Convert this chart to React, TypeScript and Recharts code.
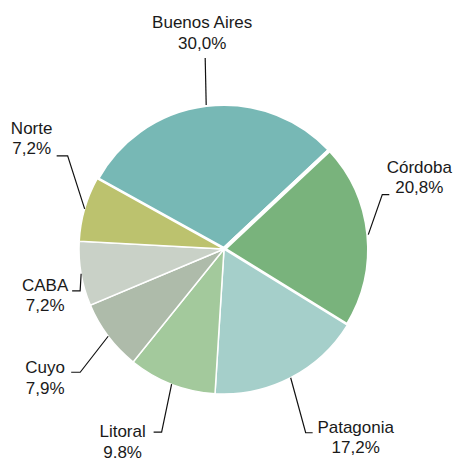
import React from "react";
import { PieChart, Pie, Cell } from "recharts";

// Participación por región
const regions = ["Buenos Aires", "Córdoba", "Patagonia", "Litoral", "Cuyo", "CABA", "Norte"];
const shares = [30.0, 20.8, 17.2, 9.8, 7.9, 7.2, 7.2];
const shareLabels = ["30,0%", "20,8%", "17,2%", "9.8%", "7,9%", "7,2%", "7,2%"];

const COLORS = ["#77b8b5", "#79b37c", "#a5cfca", "#a3c99c", "#aebbaa", "#c9d1c7", "#bcc26e"];
const STROKES = [4, 4, 1.5, 1.5, 1.5, 1.5, 1.5];

// leader layout per slice: elbow offset from arc point, horizontal tail, text center / first baseline from tail end
const LEADERS = [
  { dx: -1, dy: -47, h: 0, tx: -3, ty: -30 },
  { dx: 14, dy: -40, h: 7, tx: 30, ty: -22 },
  { dx: 15, dy: 55, h: 7, tx: 43, ty: 0 },
  { dx: -10, dy: 48, h: -8, tx: -31, ty: 5 },
  { dx: -28, dy: 36, h: -9, tx: -26, ty: 1 },
  { dx: -1, dy: 17, h: -8, tx: -27, ty: 0 },
  { dx: -17, dy: -53, h: -11, tx: -25, ty: -22 },
];

const data = regions.map((name, i) => ({ name, value: shares[i], pct: shareLabels[i] }));

const RAD = Math.PI / 180;

function renderLabel(props: any) {
  const { cx, cy, midAngle, outerRadius, index } = props;
  const L = LEADERS[index];
  const x0 = cx + outerRadius * Math.cos(-midAngle * RAD);
  const y0 = cy + outerRadius * Math.sin(-midAngle * RAD);
  const x1 = x0 + L.dx;
  const y1 = y0 + L.dy;
  const x2 = x1 + L.h;
  const tx = x2 + L.tx;
  const ty = y1 + L.ty;
  return (
    <g>
      <polyline
        points={`${x0},${y0} ${x1},${y1} ${x2},${y1}`}
        fill="none"
        stroke="#111"
        strokeWidth={1.2}
      />
      <text x={tx} y={ty} textAnchor="middle" fontSize={17} fill="#1a1a1a"
        fontFamily="'Liberation Sans', Arial, Helvetica, sans-serif">
        <tspan x={tx} dy={0}>{data[index].name}</tspan>
        <tspan x={tx} dy={20.5}>{data[index].pct}</tspan>
      </text>
    </g>
  );
}

export default function App() {
  return (
    <div style={{ position: "absolute", left: 0, top: 0, background: "#fff" }}>
      <PieChart width={457} height={460} margin={{ top: 0, right: 0, bottom: 0, left: 0 }}>
        <Pie
          data={data}
          dataKey="value"
          nameKey="name"
          cx={224}
          cy={249}
          outerRadius={145}
          startAngle={151}
          endAngle={-209}
          label={renderLabel}
          labelLine={false}
          isAnimationActive={false}
        >
          {data.map((d, i) => (
            <Cell key={d.name} fill={COLORS[i]} stroke="#fff" strokeWidth={STROKES[i]} />
          ))}
        </Pie>
      </PieChart>
    </div>
  );
}
